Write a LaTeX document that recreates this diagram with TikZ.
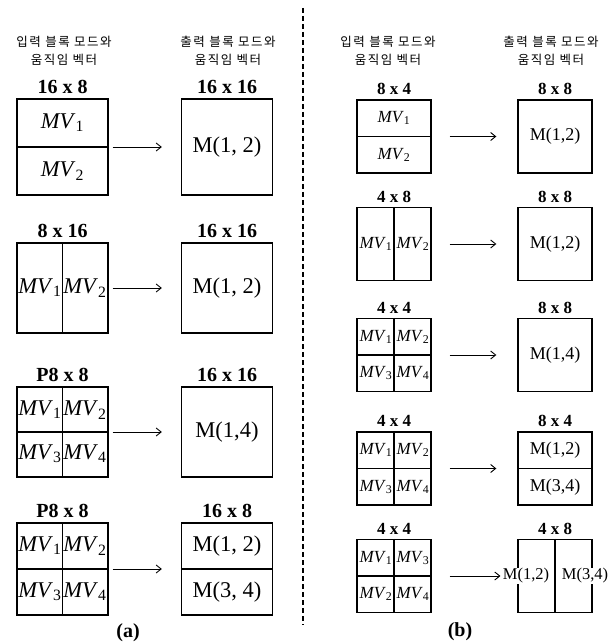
\documentclass[tikz,border=0pt]{standalone}
\usepackage{fontspec}
\setmainfont{Liberation Serif}
\newfontfamily\korfont[LetterSpace=12]{Noto Sans CJK KR}
\usetikzlibrary{positioning, arrows.meta}
\tikzset{every picture/.append style={thick}}

\newcommand{\mv}[1]{\textit{MV}\textsubscript{#1}}

\begin{document}
\begin{tikzpicture}[x=1pt, y=-1pt,
    box/.style={draw, line width=1.3pt, inner sep=0pt},
    bigbox/.style={box, minimum width=91pt},
    smallbox/.style={box, minimum width=74pt, minimum height=73pt},
    divline/.style={line width=1.1pt},
    hdr/.style={font=\korfont\fontsize{12.5}{18}\selectfont, align=center, inner sep=0pt},
    szbig/.style={font=\bfseries\fontsize{20}{20}\selectfont, inner sep=0pt},
    szsmall/.style={font=\bfseries\fontsize{17}{17}\selectfont, inner sep=0pt},
    txtbig/.style={font=\fontsize{22.5}{22.5}\selectfont, inner sep=0pt},
    txtsmall/.style={font=\fontsize{18}{18}\selectfont, inner sep=0pt},
    txtsplit/.style={font=\fontsize{16.5}{16.5}\selectfont, fill=white, inner sep=1pt},
    mvsmall/.style={font=\fontsize{17}{17}\selectfont, inner sep=0pt},
    arr/.style={-{Straight Barb[length=5pt, width=8pt]}, line width=0.9pt},
    sepline/.style={line width=1.3pt, dash pattern=on 5pt off 3pt},
    capt/.style={font=\bfseries\fontsize{20}{20}\selectfont, inner sep=0pt}]
    \useasboundingbox (0,0) rectangle (612,644);

    % ==========================================
    % Headers
    % ==========================================
    \node[hdr] (hinA) at (64,51) {입력 블록 모드와\\움직임 벡터};
    \node[hdr] (houtA) at (228,51) {출력 블록 모드와\\움직임 벡터};
    \node[hdr] (hinB) at (388,51) {입력 블록 모드와\\움직임 벡터};
    \node[hdr] (houtB) at (551,51) {출력 블록 모드와\\움직임 벡터};

    % ==========================================
    % Separator
    % ==========================================
    \coordinate (septop) at (303,8);
    \coordinate (sepbot) at (303,625);
    \draw[sepline] (septop) -- (sepbot);

    % ==========================================
    % (a) left panel
    % ==========================================
    % Row 1: 16 x 8 -> 16 x 16
    \node[bigbox, minimum height=96pt] (a1) at (62.5,147) {};
    \draw[divline] (a1.west) -- (a1.east);
    \node[txtbig] (a1u) at (62.5,123) {\mv{1}};
    \node[txtbig] (a1d) at (62.5,171) {\mv{2}};
    \node[szbig, above=4pt of a1] (a1s) {16 x 8};
    \node[bigbox, minimum height=96pt] (b1) at (227,147) {};
    \node[txtbig] (b1t) at (b1) {M(1, 2)};
    \node[szbig, above=4pt of b1] (b1s) {16 x 16};
    \draw[arr, shorten <=4pt, shorten >=19pt] (a1) -- (b1);

    % Row 2: 8 x 16 -> 16 x 16
    \node[bigbox, minimum height=90pt] (a2) at (62.5,288) {};
    \draw[divline] (a2.north) -- (a2.south);
    \node[txtbig] (a2l) at (40,288) {\mv{1}};
    \node[txtbig] (a2r) at (85,288) {\mv{2}};
    \node[szbig, above=4pt of a2] (a2s) {8 x 16};
    \node[bigbox, minimum height=90pt] (b2) at (227,288) {};
    \node[txtbig] (b2t) at (b2) {M(1, 2)};
    \node[szbig, above=4pt of b2] (b2s) {16 x 16};
    \draw[arr, shorten <=4pt, shorten >=19pt] (a2) -- (b2);

    % Row 3: P8 x 8 -> 16 x 16
    \node[bigbox, minimum height=90pt] (a3) at (62.5,432) {};
    \draw[divline] (a3.north) -- (a3.south);
    \draw[divline] (a3.west) -- (a3.east);
    \node[txtbig] (a3a) at (40,410) {\mv{1}};
    \node[txtbig] (a3b) at (85,410) {\mv{2}};
    \node[txtbig] (a3c) at (40,454) {\mv{3}};
    \node[txtbig] (a3d) at (85,454) {\mv{4}};
    \node[szbig, above=4pt of a3] (a3s) {P8 x 8};
    \node[bigbox, minimum height=90pt] (b3) at (227,432) {};
    \node[txtbig] (b3t) at (b3) {M(1,4)};
    \node[szbig, above=4pt of b3] (b3s) {16 x 16};
    \draw[arr, shorten <=4pt, shorten >=19pt] (a3) -- (b3);

    % Row 4: P8 x 8 -> 16 x 8
    \node[bigbox, minimum height=92pt] (a4) at (62.5,569) {};
    \draw[divline] (a4.north) -- (a4.south);
    \draw[divline] (a4.west) -- (a4.east);
    \node[txtbig] (a4a) at (40,546) {\mv{1}};
    \node[txtbig] (a4b) at (85,546) {\mv{2}};
    \node[txtbig] (a4c) at (40,592) {\mv{3}};
    \node[txtbig] (a4d) at (85,592) {\mv{4}};
    \node[szbig, above=4pt of a4] (a4s) {P8 x 8};
    \node[bigbox, minimum height=92pt] (b4) at (227,569) {};
    \draw[divline] (b4.west) -- (b4.east);
    \node[txtbig] (b4u) at (227,546) {M(1, 2)};
    \node[txtbig] (b4d) at (227,592) {M(3, 4)};
    \node[szbig, above=4pt of b4] (b4s) {16 x 8};
    \draw[arr, shorten <=4pt, shorten >=19pt] (a4) -- (b4);

    \node[capt] (capa) at (128,633) {(a)};

    % ==========================================
    % (b) right panel
    % ==========================================
    % Row 1: 8 x 4 -> 8 x 8
    \node[smallbox] (c1) at (394,136.5) {};
    \draw[divline] (c1.west) -- (c1.east);
    \node[mvsmall] (c1u) at (394,118) {\mv{1}};
    \node[mvsmall] (c1d) at (394,155) {\mv{2}};
    \node[szsmall, above=4pt of c1] (c1s) {8 x 4};
    \node[smallbox] (d1) at (555,136.5) {};
    \node[txtsmall] (d1t) at (d1) {M(1,2)};
    \node[szsmall, above=4pt of d1] (d1s) {8 x 8};
    \draw[arr, shorten <=18pt, shorten >=21pt] (c1) -- (d1);

    % Row 2: 4 x 8 -> 8 x 8
    \node[smallbox] (c2) at (394,244) {};
    \draw[divline] (c2.north) -- (c2.south);
    \node[mvsmall] (c2l) at (376,244) {\mv{1}};
    \node[mvsmall] (c2r) at (413,244) {\mv{2}};
    \node[szsmall, above=4pt of c2] (c2s) {4 x 8};
    \node[smallbox] (d2) at (555,244) {};
    \node[txtsmall] (d2t) at (d2) {M(1,2)};
    \node[szsmall, above=4pt of d2] (d2s) {8 x 8};
    \draw[arr, shorten <=18pt, shorten >=21pt] (c2) -- (d2);

    % Row 3: 4 x 4 -> 8 x 8
    \node[smallbox] (c3) at (394,355) {};
    \draw[divline] (c3.north) -- (c3.south);
    \draw[divline] (c3.west) -- (c3.east);
    \node[mvsmall] (c3a) at (376,337) {\mv{1}};
    \node[mvsmall] (c3b) at (413,337) {\mv{2}};
    \node[mvsmall] (c3c) at (376,373) {\mv{3}};
    \node[mvsmall] (c3d) at (413,373) {\mv{4}};
    \node[szsmall, above=4pt of c3] (c3s) {4 x 4};
    \node[smallbox] (d3) at (555,355) {};
    \node[txtsmall] (d3t) at (d3) {M(1,4)};
    \node[szsmall, above=4pt of d3] (d3s) {8 x 8};
    \draw[arr, shorten <=18pt, shorten >=21pt] (c3) -- (d3);

    % Row 4: 4 x 4 -> 8 x 4
    \node[smallbox] (c4) at (394,468.5) {};
    \draw[divline] (c4.north) -- (c4.south);
    \draw[divline] (c4.west) -- (c4.east);
    \node[mvsmall] (c4a) at (376,450) {\mv{1}};
    \node[mvsmall] (c4b) at (413,450) {\mv{2}};
    \node[mvsmall] (c4c) at (376,487) {\mv{3}};
    \node[mvsmall] (c4d) at (413,487) {\mv{4}};
    \node[szsmall, above=4pt of c4] (c4s) {4 x 4};
    \node[smallbox] (d4) at (555,468.5) {};
    \draw[divline] (d4.west) -- (d4.east);
    \node[txtsmall] (d4u) at (555,450) {M(1,2)};
    \node[txtsmall] (d4d) at (555,487) {M(3,4)};
    \node[szsmall, above=4pt of d4] (d4s) {8 x 4};
    \draw[arr, shorten <=18pt, shorten >=21pt] (c4) -- (d4);

    % Row 5: 4 x 4 -> 4 x 8
    \node[smallbox] (c5) at (394,576) {};
    \draw[divline] (c5.north) -- (c5.south);
    \draw[divline] (c5.west) -- (c5.east);
    \node[mvsmall] (c5a) at (376,558) {\mv{1}};
    \node[mvsmall] (c5b) at (413,558) {\mv{3}};
    \node[mvsmall] (c5c) at (376,594) {\mv{2}};
    \node[mvsmall] (c5d) at (413,594) {\mv{4}};
    \node[szsmall, above=4pt of c5] (c5s) {4 x 4};
    \node[smallbox] (d5) at (555,576) {};
    \draw[divline] (d5.north) -- (d5.south);
    \node[txtsplit] (d5l) at (526,576) {M(1,2)};
    \node[txtsplit] (d5r) at (585,576) {M(3,4)};
    \node[szsmall, above=4pt of d5] (d5s) {4 x 8};
    \draw[arr, shorten <=18pt, shorten >=1pt] (c5) -- (d5l);

    \node[capt] (capb) at (460,632) {(b)};

\end{tikzpicture}
\end{document}
